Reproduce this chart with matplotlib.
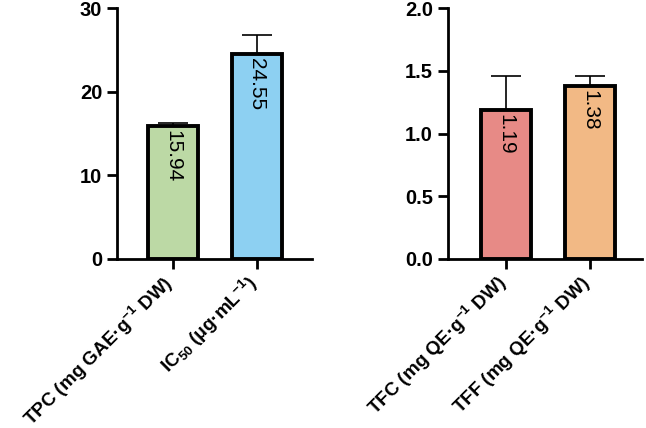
import matplotlib
matplotlib.use("Agg")
import matplotlib.pyplot as plt

plt.rcParams["font.family"] = ["Liberation Sans", "DejaVu Sans"]
plt.rcParams["mathtext.fontset"] = "custom"
plt.rcParams["mathtext.rm"] = "Liberation Sans:bold"
plt.rcParams["mathtext.bf"] = "Liberation Sans:bold"
plt.rcParams["mathtext.default"] = "bf"

# left panel
left_labels = [r"TPC (mg GAE·g$^{-1}$ DW)", r"IC$_{50}$ (μg·mL$^{-1}$)"]
left_values = [15.94, 24.55]
left_err = [0.3, 2.25]
left_colors = ["#bcd9a5", "#8dd0f2"]

# right panel
right_labels = [r"TFC (mg QE·g$^{-1}$ DW)", r"TFF (mg QE·g$^{-1}$ DW)"]
right_values = [1.19, 1.38]
right_err = [0.27, 0.08]
right_colors = ["#e78a86", "#f2b985"]

fig = plt.figure(figsize=(6.46, 4.28), dpi=100)
ax1 = fig.add_axes([0.181, 0.395, 0.302, 0.586])
ax2 = fig.add_axes([0.693, 0.395, 0.301, 0.586])


def panel(ax, labels, values, err, colors, ylim, yticks, fmt, xlim):
    x = range(len(values))
    ax.bar(x, values, width=0.6, color=colors, edgecolor="black", linewidth=2.8, zorder=2)
    ax.errorbar(x, values, yerr=[[0] * len(err), err], fmt="none", ecolor="black",
                elinewidth=1.2, capsize=11, capthick=1.2, zorder=1)
    for xi, v in zip(x, values):
        ax.text(xi, v - ylim[1] * 0.018, f"{v:.2f}", rotation=-90, ha="center",
                va="top", fontsize=15, zorder=3)
    ax.set_ylim(*ylim)
    ax.set_xlim(*xlim)
    ax.set_yticks(yticks)
    ax.set_yticklabels([fmt.format(t) for t in yticks], fontsize=14.5, fontweight="bold")
    ax.set_xticks(list(x))
    ax.set_xticklabels([])
    # rotated category labels, anchored just below each tick
    for xi, lab in zip(x, labels):
        ax.annotate(lab, xy=(xi, 0), xycoords=("data", "axes fraction"),
                    xytext=(-2, -15), textcoords="offset points", rotation=45,
                    ha="right", va="center", rotation_mode="anchor",
                    fontsize=13.6, fontweight="bold", annotation_clip=False)
    for s in ["top", "right"]:
        ax.spines[s].set_visible(False)
    for s in ["left", "bottom"]:
        ax.spines[s].set_linewidth(2)
    ax.tick_params(axis="both", width=2, length=7, direction="out")


panel(ax1, left_labels, left_values, left_err, left_colors, (0, 30),
      [0, 10, 20, 30], "{:.0f}", (-0.667, 1.655))
panel(ax2, right_labels, right_values, right_err, right_colors, (0, 2.0),
      [0.0, 0.5, 1.0, 1.5, 2.0], "{:.1f}", (-0.70, 1.62))

fig.savefig("out.png", dpi=100)
